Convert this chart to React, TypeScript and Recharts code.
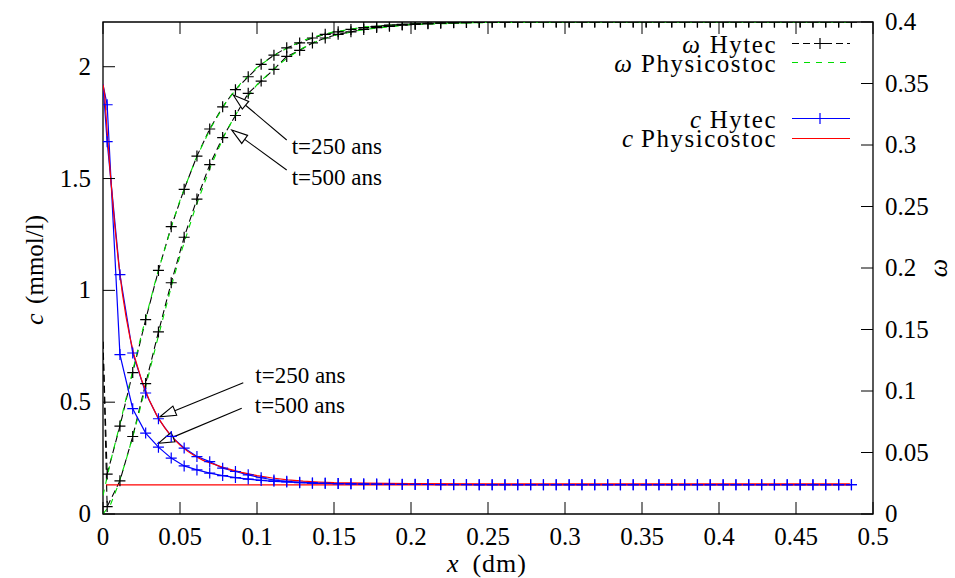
import React from "react";
import {
  ComposedChart,
  Line,
  XAxis,
  YAxis,
  ReferenceArea,
  ReferenceLine,
  Customized,
} from "recharts";

const FONT = "'Liberation Serif', 'DejaVu Serif', serif";
const PLOT = { left: 103, right: 873, top: 22, bottom: 514 };

const xTicks = [0, 0.05, 0.1, 0.15, 0.2, 0.25, 0.3, 0.35, 0.4, 0.45, 0.5];
const cTicks = [0, 0.5, 1, 1.5, 2];
const wTicks = [0, 0.05, 0.1, 0.15, 0.2, 0.25, 0.3, 0.35, 0.4];

// Hytec nodes (dm): boundary + cell centres
const hytecX = [
  0, 0.0027, 0.011, 0.0193, 0.0277, 0.036, 0.0443, 0.0527, 0.061, 0.0693,
  0.0777, 0.086, 0.0943, 0.1027, 0.111, 0.1193, 0.1277, 0.136, 0.1443, 0.1527,
  0.161, 0.1693, 0.1777, 0.186, 0.1943, 0.2027, 0.211, 0.2193, 0.2277, 0.236,
  0.2443, 0.2527, 0.261, 0.2693, 0.2777, 0.286, 0.2943, 0.3027, 0.311, 0.3193,
  0.3277, 0.336, 0.3443, 0.3527, 0.361, 0.3693, 0.3777, 0.386, 0.3943, 0.4027,
  0.411, 0.4193, 0.4277, 0.436, 0.4443, 0.4527, 0.461, 0.4693, 0.4777, 0.486,
];
const omegaHytec250 = [
  0.14, 0.0325, 0.0715, 0.115, 0.158, 0.198, 0.2336, 0.264, 0.291, 0.313,
  0.331, 0.345, 0.3555, 0.3656, 0.373, 0.379, 0.383, 0.387, 0.39, 0.392,
  0.394, 0.3955, 0.3965, 0.3975, 0.398, 0.3985, 0.399, 0.3993, 0.3995, 0.3997,
  0.3998, 0.3999, 0.3999, 0.4, 0.4, 0.4, 0.4, 0.4, 0.4, 0.4,
  0.4, 0.4, 0.4, 0.4, 0.4, 0.4, 0.4, 0.4, 0.4, 0.4,
  0.4, 0.4, 0.4, 0.4, 0.4, 0.4, 0.4, 0.4, 0.4, 0.4,
];
const omegaHytec500 = [
  0.14, 0.006, 0.027, 0.063, 0.106, 0.148, 0.188, 0.225, 0.256, 0.284,
  0.306, 0.324, 0.342, 0.352, 0.3615, 0.372, 0.377, 0.383, 0.387, 0.39,
  0.392, 0.394, 0.3955, 0.3965, 0.3975, 0.398, 0.3985, 0.399, 0.3993, 0.3995,
  0.3997, 0.3998, 0.3999, 0.3999, 0.4, 0.4, 0.4, 0.4, 0.4, 0.4,
  0.4, 0.4, 0.4, 0.4, 0.4, 0.4, 0.4, 0.4, 0.4, 0.4,
  0.4, 0.4, 0.4, 0.4, 0.4, 0.4, 0.4, 0.4, 0.4, 0.4,
];
const cHytec250 = [
  1.92, 1.665, 1.07, 0.72, 0.541, 0.426, 0.347, 0.295, 0.257, 0.234,
  0.205, 0.19, 0.175, 0.162, 0.152, 0.146, 0.142, 0.139, 0.137, 0.136,
  0.135, 0.134, 0.134, 0.133, 0.133, 0.133, 0.132, 0.132, 0.132, 0.132,
  0.131, 0.131, 0.131, 0.131, 0.131, 0.131, 0.131, 0.131, 0.131, 0.131,
  0.131, 0.131, 0.131, 0.131, 0.131, 0.131, 0.131, 0.131, 0.131, 0.131,
  0.131, 0.131, 0.131, 0.131, 0.131, 0.131, 0.131, 0.131, 0.131, 0.131,
];
const cHytec500 = [
  1.92, 1.83, 0.713, 0.471, 0.362, 0.299, 0.25, 0.215, 0.197, 0.183,
  0.172, 0.163, 0.156, 0.15, 0.146, 0.143, 0.14, 0.138, 0.137, 0.136,
  0.135, 0.134, 0.133, 0.133, 0.132, 0.132, 0.132, 0.131, 0.131, 0.131,
  0.131, 0.131, 0.131, 0.131, 0.131, 0.131, 0.131, 0.131, 0.131, 0.131,
  0.131, 0.131, 0.131, 0.131, 0.131, 0.131, 0.131, 0.131, 0.131, 0.131,
  0.131, 0.131, 0.131, 0.131, 0.131, 0.131, 0.131, 0.131, 0.131, 0.131,
];

// Physicostoc
const physOmegaX = [
  0, 0.005, 0.01, 0.015, 0.02, 0.025, 0.03, 0.035, 0.04, 0.045, 0.05, 0.06,
  0.07, 0.08, 0.09, 0.1, 0.11, 0.12, 0.13, 0.14, 0.15, 0.17, 0.2, 0.25, 0.3,
  0.35, 0.4, 0.45, 0.485,
];
const omegaPhys250 = [
  0.015, 0.043, 0.068, 0.094, 0.12, 0.146, 0.17, 0.194, 0.215, 0.236, 0.255,
  0.288, 0.314, 0.335, 0.351, 0.363, 0.372, 0.379, 0.385, 0.389, 0.392, 0.396,
  0.3985, 0.3996, 0.4, 0.4, 0.4, 0.4, 0.4,
];
const omegaPhys500 = [
  0, 0.008, 0.024, 0.044, 0.066, 0.09, 0.115, 0.14, 0.164, 0.188, 0.21,
  0.249, 0.283, 0.311, 0.333, 0.349, 0.361, 0.371, 0.379, 0.385, 0.389, 0.394,
  0.398, 0.3995, 0.4, 0.4, 0.4, 0.4, 0.4,
];
const physCX = [
  0, 0.001, 0.0027, 0.005, 0.0075, 0.01, 0.0125, 0.015, 0.0175, 0.02, 0.025,
  0.03, 0.035, 0.04, 0.045, 0.05, 0.055, 0.06, 0.065, 0.07, 0.08, 0.09, 0.1,
  0.11, 0.12, 0.13, 0.14, 0.15, 0.17, 0.2, 0.25, 0.3, 0.35, 0.4, 0.45, 0.485,
];
const cPhys250 = [
  1.92, 1.88, 1.71, 1.5, 1.3, 1.13, 0.99, 0.88, 0.79, 0.715, 0.6, 0.51, 0.44,
  0.386, 0.343, 0.308, 0.28, 0.258, 0.24, 0.227, 0.204, 0.186, 0.172, 0.161,
  0.153, 0.147, 0.143, 0.14, 0.138, 0.136, 0.135, 0.135, 0.135, 0.135, 0.135,
  0.135,
];
const physC500X = [0.002, 0.485];
const cPhys500 = [0.13, 0.13];

const pts = (xs: number[], ys: number[]) => xs.map((x, i) => ({ x, y: ys[i] }));

const txt = (size: number, extra: React.CSSProperties = {}): React.CSSProperties => ({
  fontFamily: FONT,
  fontSize: size,
  ...extra,
});

const plusDot = (color: string) => (p: any) => {
  const { cx, cy, index } = p;
  if (index === 0 || cx == null || cy == null) return <g key={`n${index}`} />;
  const s = 5.5;
  return (
    <path
      key={`d${index}`}
      d={`M${cx - s},${cy}H${cx + s}M${cx},${cy - s}V${cy + s}`}
      stroke={color}
      strokeWidth={1.2}
      fill="none"
    />
  );
};

function BottomTick(props: any) {
  const { x, payload } = props;
  return (
    <g>
      <line x1={x} y1={PLOT.bottom} x2={x} y2={PLOT.bottom - 12} stroke="#000" />
      <line x1={x} y1={PLOT.top} x2={x} y2={PLOT.top + 12} stroke="#000" />
      <text x={x} y={PLOT.bottom + 31} textAnchor="middle" fill="#000" style={txt(25)}>
        {String(payload.value)}
      </text>
    </g>
  );
}

function LeftTick(props: any) {
  const { y, payload } = props;
  return (
    <g>
      <line x1={PLOT.left} y1={y} x2={PLOT.left + 12} y2={y} stroke="#000" />
      <text x={PLOT.left - 12} y={y + 8} textAnchor="end" fill="#000" style={txt(25)}>
        {String(payload.value)}
      </text>
    </g>
  );
}

function RightTick(props: any) {
  const { y, payload } = props;
  return (
    <g>
      <line x1={PLOT.right} y1={y} x2={PLOT.right - 12} y2={y} stroke="#000" />
      <text x={PLOT.right + 12} y={y + 8} textAnchor="start" fill="#000" style={txt(25)}>
        {String(payload.value)}
      </text>
    </g>
  );
}

const arrowShape = (label: string, dx: number, dy: number) => (p: any) => {
  const { x1, y1, x2, y2 } = p;
  const len = Math.hypot(x2 - x1, y2 - y1) || 1;
  const ux = (x2 - x1) / len;
  const uy = (y2 - y1) / len;
  const hl = 16;
  const hw = 5;
  const bx = x2 - ux * hl;
  const by = y2 - uy * hl;
  const nx = -uy;
  const ny = ux;
  return (
    <g>
      <line x1={x1} y1={y1} x2={bx} y2={by} stroke="#000" strokeWidth={1.1} />
      <polygon
        points={`${x2},${y2} ${bx + nx * hw},${by + ny * hw} ${bx - nx * hw},${by - ny * hw}`}
        fill="#fff"
        stroke="#000"
        strokeWidth={1.1}
      />
      <text x={x1 + dx} y={y1 + dy} fill="#000" style={txt(23)}>
        {label}
      </text>
    </g>
  );
};

// legend row: italic symbol and name as two texts, both right-aligned
function LegendText({ y, sym, symEnd, name }: { y: number; sym: string; symEnd: number; name: string }) {
  return (
    <g>
      <text x={symEnd} y={y} textAnchor="end" fill="#000" style={txt(25, { fontStyle: "italic" })}>
        {sym}
      </text>
      <text x={777} y={y} textAnchor="end" fill="#000" style={txt(25, { letterSpacing: 1.5 })}>
        {name}
      </text>
    </g>
  );
}

function Decorations() {
  const l0 = 792;
  const l1 = 850;
  const mk = (x: number, y: number, c: string) => (
    <path d={`M${x - 5.5},${y}H${x + 5.5}M${x},${y - 5.5}V${y + 5.5}`} stroke={c} strokeWidth={1.2} />
  );
  return (
    <g>
      <LegendText y={53} sym="ω" symEnd={700} name="Hytec" />
      <line x1={l0} y1={43.5} x2={l1} y2={43.5} stroke="#000" strokeDasharray="7 4" />
      {mk(820, 43.5, "#000")}
      <LegendText y={71.5} sym="ω" symEnd={632} name="Physicostoc" />
      <line x1={l0} y1={62.5} x2={l1} y2={62.5} stroke="#00dd00" strokeDasharray="6 6" />
      <LegendText y={128} sym="c" symEnd={701} name="Hytec" />
      <line x1={l0} y1={118.5} x2={l1} y2={118.5} stroke="#0000ff" strokeWidth={1.2} />
      {mk(820, 118.5, "#0000ff")}
      <LegendText y={146.5} sym="c" symEnd={633} name="Physicostoc" />
      <line x1={l0} y1={138.5} x2={l1} y2={138.5} stroke="#ff0000" strokeWidth={1.2} />

      <text x={447} y={572} textAnchor="start" fill="#000" style={txt(26, { fontStyle: "italic" })}>
        x
      </text>
      <text x={527} y={572} textAnchor="end" fill="#000" style={txt(26, { letterSpacing: 1 })}>
        (dm)
      </text>
      <text transform="translate(43,325) rotate(-90)" textAnchor="start" fill="#000" style={txt(26, { fontStyle: "italic" })}>
        c
      </text>
      <text transform="translate(43,215) rotate(-90)" textAnchor="end" fill="#000" style={txt(25)}>
        (mmol/l)
      </text>
      <text
        transform="translate(947,268) rotate(-90)"
        textAnchor="middle"
        fill="#000"
        style={txt(26, { fontStyle: "italic" })}
      >
        ω
      </text>
    </g>
  );
}

export default function App() {
  return (
    <div style={{ position: "absolute", left: 0, top: 0, background: "#fff" }}>
      <ComposedChart
        width={955}
        height={578}
        margin={{ top: 22, right: 22, bottom: 14, left: 43 }}
      >
        <XAxis
          type="number"
          dataKey="x"
          domain={[0, 0.5]}
          ticks={xTicks}
          interval={0}
          height={50}
          axisLine={false}
          tickLine={false}
          tickSize={0}
          tickMargin={0}
          tick={<BottomTick />}
          allowDataOverflow
        />
        <YAxis
          yAxisId="c"
          type="number"
          domain={[0, 2.2]}
          ticks={cTicks}
          interval={0}
          width={60}
          axisLine={false}
          tickLine={false}
          tickSize={0}
          tickMargin={0}
          tick={<LeftTick />}
          allowDataOverflow
        />
        <YAxis
          yAxisId="w"
          orientation="right"
          type="number"
          domain={[0, 0.4]}
          ticks={wTicks}
          interval={0}
          width={60}
          axisLine={false}
          tickLine={false}
          tickSize={0}
          tickMargin={0}
          tick={<RightTick />}
          allowDataOverflow
        />

        <Line
          yAxisId="w"
          data={pts(hytecX, omegaHytec250)}
          dataKey="y"
          stroke="#000"
          strokeWidth={1.1}
          strokeDasharray="7 4"
          dot={plusDot("#000")}
          isAnimationActive={false}
        />
        <Line
          yAxisId="w"
          data={pts(hytecX, omegaHytec500)}
          dataKey="y"
          stroke="#000"
          strokeWidth={1.1}
          strokeDasharray="7 4"
          dot={plusDot("#000")}
          isAnimationActive={false}
        />
        <Line
          yAxisId="w"
          data={pts(physOmegaX, omegaPhys250)}
          dataKey="y"
          stroke="#00dd00"
          strokeWidth={1.1}
          strokeDasharray="6 6"
          dot={false}
          isAnimationActive={false}
        />
        <Line
          yAxisId="w"
          data={pts(physOmegaX, omegaPhys500)}
          dataKey="y"
          stroke="#00dd00"
          strokeWidth={1.1}
          strokeDasharray="6 6"
          dot={false}
          isAnimationActive={false}
        />
        <Line
          yAxisId="c"
          data={pts(hytecX, cHytec250)}
          dataKey="y"
          stroke="#0000ff"
          strokeWidth={1.2}
          dot={plusDot("#0000ff")}
          isAnimationActive={false}
        />
        <Line
          yAxisId="c"
          data={pts(hytecX, cHytec500)}
          dataKey="y"
          stroke="#0000ff"
          strokeWidth={1.2}
          dot={plusDot("#0000ff")}
          isAnimationActive={false}
        />
        <Line
          yAxisId="c"
          data={pts(physCX, cPhys250)}
          dataKey="y"
          stroke="#ff0000"
          strokeWidth={1.2}
          dot={false}
          isAnimationActive={false}
        />
        <Line
          yAxisId="c"
          data={pts(physC500X, cPhys500)}
          dataKey="y"
          stroke="#ff0000"
          strokeWidth={1.2}
          dot={false}
          isAnimationActive={false}
        />

        <ReferenceLine
          yAxisId="w"
          segment={[{ x: 0.1193, y: 0.3041 }, { x: 0.0846, y: 0.3407 }]}
          shape={arrowShape("t=250 ans", 5, 14)}
          ifOverflow="visible"
        />
        <ReferenceLine
          yAxisId="w"
          segment={[{ x: 0.1193, y: 0.2797 }, { x: 0.0836, y: 0.3122 }]}
          shape={arrowShape("t=500 ans", 5, 15)}
          ifOverflow="visible"
        />
        <ReferenceLine
          yAxisId="c"
          segment={[{ x: 0.0911, y: 0.587 }, { x: 0.037, y: 0.435 }]}
          shape={arrowShape("t=250 ans", 12, 0)}
          ifOverflow="visible"
        />
        <ReferenceLine
          yAxisId="c"
          segment={[{ x: 0.0901, y: 0.473 }, { x: 0.0359, y: 0.316 }]}
          shape={arrowShape("t=500 ans", 13, 5)}
          ifOverflow="visible"
        />

        <ReferenceArea
          yAxisId="c"
          x1={0}
          x2={0.5}
          y1={0}
          y2={2.2}
          fill="none"
          stroke="#000"
          strokeWidth={1.3}
          ifOverflow="visible"
        />
        <Customized component={Decorations} />
      </ComposedChart>
    </div>
  );
}
